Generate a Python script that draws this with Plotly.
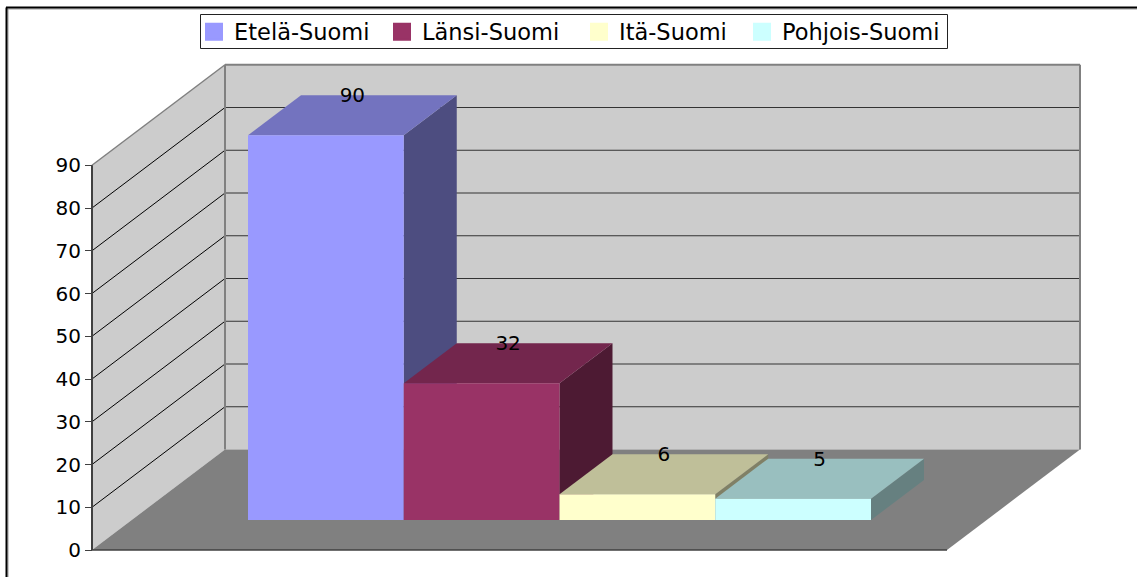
import plotly.graph_objects as go

series = ["Etelä-Suomi", "Länsi-Suomi", "Itä-Suomi", "Pohjois-Suomi"]
values = [90, 32, 6, 5]
front_colors = ["#9999FF", "#993366", "#FFFFCC", "#CCFFFF"]
top_colors = ["#7373BF", "#73264D", "#BFBF99", "#99BFBF"]
side_colors = ["#4D4D80", "#4D1A33", "#808066", "#668080"]
y_ticks = [0, 10, 20, 30, 40, 50, 60, 70, 80, 90]
legend_px = [194, 382, 579, 742]

W, H = 1137, 577
X0_PX, Y0_PX = 92, 550
BAR_LEFT_PX = 248
PX_X = 155.75
PX_Y = 4.275

def px_x(p):
    return (p - X0_PX) / PX_X

def px_y(p):
    return (Y0_PX - p) / PX_Y

FLOOR_W = 855 / PX_X
DEPTH_X = 133 / PX_X
DEPTH_Y = 100.5 / PX_Y
BAR_DX = 53 / PX_X
BAR_DY = 40 / PX_Y
BAR_BASE = 30 / PX_Y
LABEL_DY = -2 / PX_Y
YMAX = y_ticks[-1]
BAR_X0 = px_x(BAR_LEFT_PX)

def poly(points, fill, line="rgba(0,0,0,0)", width=0):
    path = "M" + "L".join(f"{x},{y}" for x, y in points) + "Z"
    return dict(type="path", path=path, xref="x", yref="y", fillcolor=fill,
                line=dict(color=line, width=width), layer="below")

def seg(x1, y1, x2, y2, color, width=1):
    return dict(type="line", x0=x1, y0=y1, x1=x2, y1=y2, xref="x", yref="y",
                line=dict(color=color, width=width), layer="below")

shapes = [
    poly([(0, 0), (DEPTH_X, DEPTH_Y), (DEPTH_X, YMAX + DEPTH_Y), (0, YMAX)], "#CCCCCC"),
    poly([(DEPTH_X, DEPTH_Y), (DEPTH_X + FLOOR_W, DEPTH_Y),
          (DEPTH_X + FLOOR_W, YMAX + DEPTH_Y), (DEPTH_X, YMAX + DEPTH_Y)], "#CCCCCC"),
    poly([(0, 0), (FLOOR_W, 0), (FLOOR_W + DEPTH_X, DEPTH_Y), (DEPTH_X, DEPTH_Y)], "#808080"),
]
for t in y_ticks[1:-1]:
    shapes.append(seg(0, t, DEPTH_X, t + DEPTH_Y, "#000000", 1))
    shapes.append(seg(DEPTH_X, t + DEPTH_Y, DEPTH_X + FLOOR_W, t + DEPTH_Y, "#333333", 1))
shapes += [
    seg(0, YMAX, DEPTH_X, YMAX + DEPTH_Y, "#808080", 1.5),
    seg(DEPTH_X, YMAX + DEPTH_Y, DEPTH_X + FLOOR_W, YMAX + DEPTH_Y, "#808080", 2),
    seg(DEPTH_X, DEPTH_Y, DEPTH_X, YMAX + DEPTH_Y, "#808080", 2),
    seg(DEPTH_X + FLOOR_W, DEPTH_Y, DEPTH_X + FLOOR_W, YMAX + DEPTH_Y, "#808080", 2),
    seg(0, 0, 0, YMAX, "#404040", 2),
    seg(0, 0, FLOOR_W, 0, "#404040", 1.5),
]

bars = []
labels = []
for i, (name, v) in enumerate(zip(series, values)):
    xl = BAR_X0 + i
    xr = xl + 1
    yb = BAR_BASE
    yt = BAR_BASE + v
    shapes.append(poly([(xr, yb), (xr + BAR_DX, yb + BAR_DY), (xr + BAR_DX, yt + BAR_DY), (xr, yt)], side_colors[i]))
    shapes.append(poly([(xl, yt), (xr, yt), (xr + BAR_DX, yt + BAR_DY), (xl + BAR_DX, yt + BAR_DY)], top_colors[i]))
    bars.append(go.Bar(x=[xl], y=[v], base=BAR_BASE, width=1, offset=0,
                       marker=dict(color=front_colors[i], line=dict(width=0)),
                       showlegend=False, hoverinfo="skip"))
    labels.append(go.Scatter(x=[xl + 0.5 + BAR_DX / 2], y=[yt + BAR_DY + LABEL_DY], mode="text",
                             text=[str(v)], textposition="middle center",
                             textfont=dict(family="DejaVu Sans", size=20, color="#000000"),
                             showlegend=False, hoverinfo="skip"))

legend_ids = ["legend", "legend2", "legend3", "legend4"]
legend_traces = [
    go.Scatter(x=[None], y=[None], mode="markers", name=n, legend=lid,
               marker=dict(symbol="square", size=16, color=c, line=dict(color=c, width=2)))
    for n, c, lid in zip(series, front_colors, legend_ids)
]
legend_layouts = {
    lid: dict(x=p / W, y=1 - 32 / H, xanchor="left", yanchor="middle",
              orientation="h", bgcolor="rgba(0,0,0,0)", borderwidth=0,
              font=dict(family="DejaVu Sans", size=22.5, color="#000000"),
              itemwidth=30, itemclick=False, itemdoubleclick=False)
    for lid, p in zip(legend_ids, legend_px)
}

def paper_line(x0, y0, x1, y1, color, width):
    return dict(type="line", xref="paper", yref="paper", x0=x0 / W, x1=x1 / W,
                y0=1 - y0 / H, y1=1 - y1 / H, line=dict(color=color, width=width), layer="above")

shapes += [
    paper_line(6.5, 9, W, 9, "#9A9A9A", 1),
    paper_line(8, 9, 8, H, "#9A9A9A", 1),
    paper_line(6, 7.5, W, 7.5, "#000000", 2),
    paper_line(6.5, 7.5, 6.5, H, "#000000", 2),
    dict(type="rect", xref="paper", yref="paper", x0=200.5 / W, x1=947.5 / W,
         y0=1 - 48.5 / H, y1=1 - 14.5 / H, fillcolor="#FFFFFF",
         line=dict(color="#222222", width=1), layer="above"),
]

fig = go.Figure(data=bars + labels + legend_traces)
fig.update_layout(
    width=W, height=H, autosize=False,
    margin=dict(l=0, r=0, t=0, b=0),
    paper_bgcolor="#FFFFFF", plot_bgcolor="#FFFFFF",
    barmode="overlay",
    shapes=shapes,
    font=dict(family="DejaVu Sans", size=20, color="#000000"),
    showlegend=True,
    xaxis=dict(range=[px_x(0), px_x(W)], visible=False, fixedrange=True),
    yaxis=dict(range=[px_y(H), px_y(0)], anchor="free", position=X0_PX / W,
               tickmode="array", tickvals=y_ticks, ticktext=[str(t) for t in y_ticks],
               ticks="outside", ticklen=7, tickwidth=1, tickcolor="#404040",
               showgrid=False, zeroline=False, showline=False, fixedrange=True,
               tickfont=dict(family="DejaVu Sans", size=20, color="#000000")),
    **legend_layouts,
)
fig.write_html("out.html", post_script="document.body.style.margin='0';",
               config=dict(displayModeBar=False))
